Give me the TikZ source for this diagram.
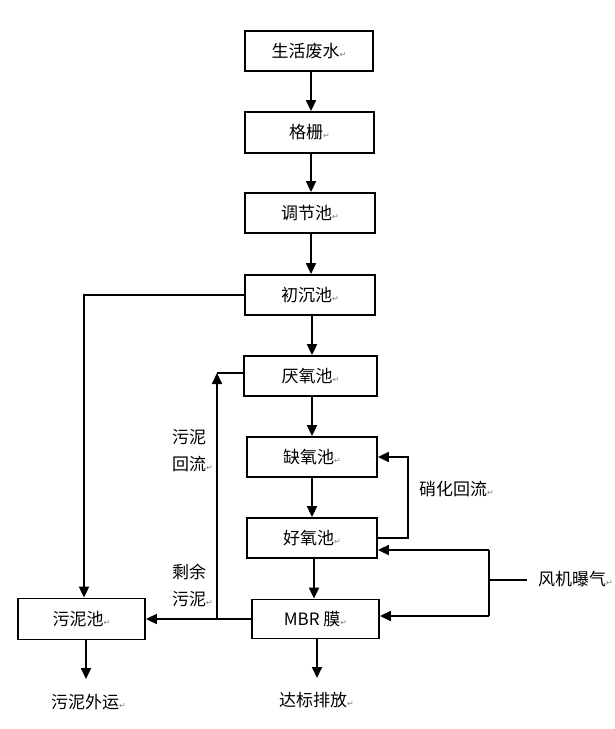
\documentclass[tikz,border=0pt]{standalone}
\usepackage{fontspec}
\setmainfont{Noto Sans CJK SC}
\newfontfamily\symfont{DejaVu Sans}
\usetikzlibrary{arrows.meta}
\newcommand\pmark{{\symfont\fontsize{8}{8}\selectfont\color{gray}↵}}
\begin{document}
\begin{tikzpicture}[x=1pt,y=-1pt,
  box/.style={draw,line width=1.8pt,minimum width=130pt,minimum height=40pt,inner sep=0pt,font=\fontsize{17}{17}\selectfont},
  lbl/.style={inner sep=0pt,font=\fontsize{17}{27}\selectfont,align=left,anchor=west},
  conn/.style={line width=1.8pt},
  arr/.style={conn,-{Triangle[length=11pt,width=10pt]}}]
\useasboundingbox (0,0) rectangle (614,729);
\fill[white] (0,0) rectangle (614,729);

\node[box,minimum width=128pt] (s1) at (309,51) {生活废水\pmark};
\node[box,minimum width=129pt,minimum height=41pt] (s2) at (309.5,132.5) {格栅\pmark};
\node[box] (s3) at (310,213) {调节池\pmark};
\node[box] (cc) at (310,295) {初沉池\pmark};
\node[box,minimum width=133pt] (yy) at (310.5,376) {厌氧池\pmark};
\node[box] (qy) at (312,457) {缺氧池\pmark};
\node[box] (hy) at (312,538) {好氧池\pmark};
\node[box,minimum width=127pt,minimum height=39pt] (mbr) at (315.5,619) {MBR 膜\pmark};
\node[box,minimum width=127pt,minimum height=41pt] (wn) at (81.5,619) {污泥池\pmark};

\node[lbl] (hl) at (172,451) {污泥\\回流\pmark};
\node[lbl] (sy) at (172,585) {剩余\\污泥\pmark};
\node[lbl] (xh) at (419,489) {硝化回流\pmark};
\node[lbl] (fj) at (538,579) {风机曝气\pmark};
\node[lbl] (wy) at (51,702) {污泥外运\pmark};
\node[lbl] (db) at (279,700) {达标排放\pmark};

\draw[arr] ([xshift=2pt]s1.south) -- ([xshift=2pt]s1.south |- s2.north);
\draw[arr] ([xshift=1.5pt]s2.south) -- ([xshift=1.5pt]s2.south |- s3.north);
\draw[arr] ([xshift=1pt]s3.south) -- ([xshift=1pt]s3.south |- cc.north);
\draw[arr] ([xshift=2pt]cc.south) -- ([xshift=2pt]cc.south |- yy.north);
\draw[arr] ([xshift=1.5pt]yy.south) -- ([xshift=1.5pt]yy.south |- qy.north);
\draw[arr] (qy.south) -- (qy.south |- hy.north);
\draw[arr] ([xshift=2pt]hy.south) -- ([xshift=2pt]hy.south |- mbr.north);

\draw[arr] (cc.west) -| ([xshift=2.5pt]wn.north);

\draw[arr] (mbr.west) -- (wn.east);
\coordinate (j) at (217,619);
\coordinate (t) at (217,373);
\draw[arr] (j) -- (t);
\draw[conn] (yy.west |- t) -- (t);

\draw[arr] (hy.east) -- ++(30,0) |- (qy.east);

\coordinate (a1) at (489,550);
\coordinate (a2) at (489,616);
\coordinate (a0) at (489,580);
\draw[conn] (a1) -- (a2);
\draw[arr] (a1) -- (a1 -| hy.east);
\draw[arr] (a2) -- (a2 -| mbr.east);
\draw[conn] ([xshift=-11pt]fj.west |- a0) -- (a0);

\coordinate (e1) at (86,679);
\coordinate (e2) at (317,678);
\draw[arr] ([xshift=4.5pt]wn.south) -- (e1);
\draw[arr] ([xshift=1.5pt]mbr.south) -- (e2);
\end{tikzpicture}
\end{document}
